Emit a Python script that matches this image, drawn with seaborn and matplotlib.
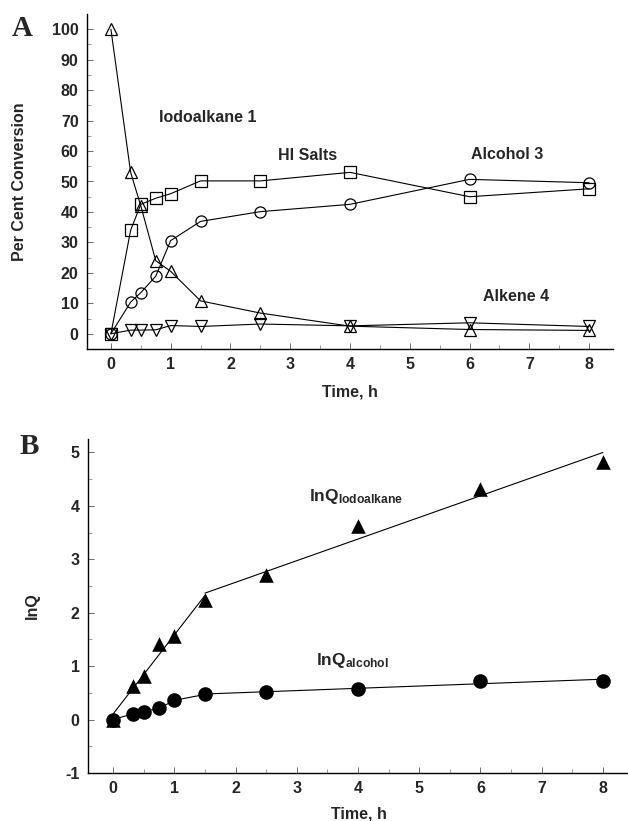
import numpy as np
import pandas as pd
import matplotlib
matplotlib.use("Agg")
import matplotlib.pyplot as plt
import seaborn as sns

# ---------------- data ----------------
time_h = [0, 0.33, 0.5, 0.75, 1, 1.5, 2.5, 4, 6, 8]

iodoalkane = [100, 53, 42, 24, 20.5, 10.8, 6.8, 2.5, 1.4, 1.1]
hi_salts = [0, 34, 42.5, 44.5, 46, 50.2, 50.2, 53, 45, 47.6]
alcohol = [0, 10.4, 13.5, 18.9, 30.6, 36.9, 40.1, 42.5, 50.7, 49.6]
alkene = [0, 1.2, 1.2, 1.3, 2.7, 2.4, 3.2, 2.6, 3.6, 2.4]

lnq_iodo = [0, 0.62, 0.82, 1.42, 1.57, 2.23, 2.70, 3.63, 4.32, 4.82]
lnq_alc = [0, 0.11, 0.15, 0.21, 0.36, 0.47, 0.52, 0.57, 0.73, 0.72]

labels_a = ["Iodoalkane 1", "HI Salts", "Alcohol 3", "Alkene 4"]

# ---------------- style ----------------
sns.set_theme(style="ticks")
plt.rcParams["font.family"] = ["Liberation Sans", "DejaVu Sans"]
plt.rcParams["font.weight"] = "bold"
plt.rcParams["axes.unicode_minus"] = False
plt.rcParams["mathtext.fontset"] = "custom"
plt.rcParams["mathtext.rm"] = "Liberation Sans:bold"
plt.rcParams["mathtext.bf"] = "Liberation Sans:bold"
plt.rcParams["mathtext.it"] = "Liberation Sans:bold"

fig = plt.figure(figsize=(6.28, 8.21), dpi=100)
axA = fig.add_axes([87 / 628, 1 - 349 / 821, 526 / 628, 335 / 821])
axB = fig.add_axes([88 / 628, 1 - 773 / 821, 540 / 628, 334 / 821])

lw = 0.8
ms = 8
t = np.array(time_h)

# ---------------- panel A ----------------
common = dict(color="black", linewidth=lw, markersize=ms, markerfacecolor="none",
              markeredgecolor="black", markeredgewidth=0.9, ax=axA, legend=False)
sns.lineplot(x=time_h, y=iodoalkane, marker="^", **common)
sns.lineplot(x=time_h, y=hi_salts, marker="s", **common)
sns.lineplot(x=time_h, y=alcohol, marker="o", **common)
sns.lineplot(x=time_h, y=alkene, marker="v", **common)

axA.set_xlim(-0.4, 8.4)
axA.set_ylim(-5, 105)
axA.set_xticks(range(0, 9))
axA.set_xticks(np.arange(0.5, 8, 1), minor=True)
axA.set_yticks(range(0, 101, 10))
axA.set_yticks(range(5, 101, 10), minor=True)

fs_lab = 11.5
axA.text(0.80, 71, labels_a[0], fontsize=fs_lab, fontweight="bold", va="center", ha="left")
axA.text(2.80, 58.7, labels_a[1], fontsize=fs_lab, fontweight="bold", va="center", ha="left")
axA.text(6.03, 59, labels_a[2], fontsize=fs_lab, fontweight="bold", va="center", ha="left")
axA.text(6.23, 12.1, labels_a[3], fontsize=fs_lab, fontweight="bold", va="center", ha="left")

axA.set_xlabel("Time, h", fontsize=11.5, fontweight="bold")
axA.set_ylabel("Per Cent Conversion", fontsize=11.5, fontweight="bold")
axA.xaxis.set_label_coords(0.5, -0.105)
axA.yaxis.set_label_coords(-0.115, 0.5)

# ---------------- panel B ----------------
sns.scatterplot(x=time_h, y=lnq_iodo, marker="^", s=110, color="black",
                edgecolor="black", linewidth=0, ax=axB, legend=False, zorder=3)
sns.scatterplot(x=time_h, y=lnq_alc, marker="o", s=110, color="black",
                edgecolor="black", linewidth=0, ax=axB, legend=False, zorder=3)

yi = np.array(lnq_iodo)
ya = np.array(lnq_alc)
early = t <= 1.5
late = t >= 1.5
p1 = np.polyfit(t[early], yi[early], 1)
p2 = np.polyfit(t[late], yi[late], 1)
p3 = np.polyfit(t[late], ya[late], 1)

seg1_x = t[early][[0, -1]]
seg2_x = t[late][[0, -1]]
sns.lineplot(x=seg1_x, y=np.polyval(p1, seg1_x), color="black", linewidth=lw, ax=axB)
sns.lineplot(x=seg2_x, y=np.polyval(p2, seg2_x), color="black", linewidth=lw, ax=axB)
sns.lineplot(x=t[early], y=ya[early], color="black", linewidth=lw, ax=axB)
sns.lineplot(x=seg2_x, y=np.polyval(p3, seg2_x), color="black", linewidth=lw, ax=axB)

axB.set_xlim(-0.41, 8.41)
axB.set_ylim(-1, 5.25)
axB.set_xticks(range(0, 9))
axB.set_xticks(np.arange(0.5, 8.4, 1), minor=True)
axB.set_yticks(range(-1, 6))
axB.set_yticks(np.arange(-0.5, 5.1, 1), minor=True)

axB.text(3.2, 4.18, r"lnQ$_{\mathrm{Iodoalkane}}$", fontsize=12.5, fontweight="bold",
         va="center", ha="left")
axB.text(3.32, 1.1, r"lnQ$_{\mathrm{alcohol}}$", fontsize=12.5, fontweight="bold",
         va="center", ha="left")

axB.set_xlabel("Time, h", fontsize=11.5, fontweight="bold")
axB.set_ylabel("lnQ", fontsize=11.5, fontweight="bold")
axB.xaxis.set_label_coords(0.502, -0.10)
axB.yaxis.set_label_coords(-0.09, 0.5)

# ---------------- common axis styling ----------------
for ax in (axA, axB):
    sns.despine(ax=ax)
    for sp in ("left", "bottom"):
        ax.spines[sp].set_linewidth(1.0)
        ax.spines[sp].set_color("black")
    ax.tick_params(which="major", direction="in", length=4, width=0.6, color="#555555",
                   labelsize=11.5, pad=6)
    ax.tick_params(which="minor", direction="in", length=3, width=0.5, color="#777777")
    for lab in ax.get_xticklabels() + ax.get_yticklabels():
        lab.set_fontweight("bold")
    ax.set_facecolor("white")

fig.text(12 / 628, 1 - 28 / 821, "A", fontsize=21, fontweight="bold",
         family=["Liberation Serif", "DejaVu Serif"], va="center", ha="left")
fig.text(20 / 628, 1 - 446 / 821, "B", fontsize=21, fontweight="bold",
         family=["Liberation Serif", "DejaVu Serif"], va="center", ha="left")

fig.savefig("out.png", dpi=100, facecolor="white")
